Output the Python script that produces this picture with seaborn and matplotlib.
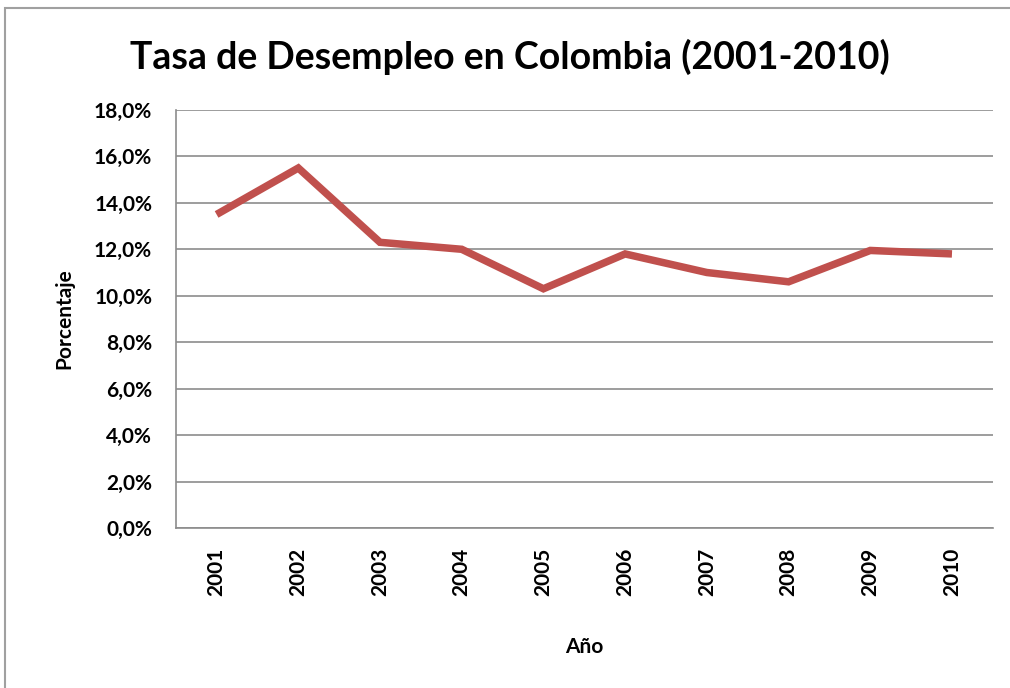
import numpy as np
import pandas as pd
import seaborn as sns
import matplotlib.pyplot as plt
from matplotlib.ticker import FuncFormatter, MultipleLocator
from matplotlib.patches import Rectangle

# datos
years = ['2001', '2002', '2003', '2004', '2005', '2006', '2007', '2008', '2009', '2010']
tasa = [13.5, 15.5, 12.3, 12.0, 10.3, 11.8, 11.0, 10.6, 11.95, 11.8]

df = pd.DataFrame({'Año': years, 'Tasa': tasa})

sns.set_style('white')
plt.rcParams['font.family'] = ['Lato', 'DejaVu Sans']
plt.rcParams['text.color'] = 'black'

fig = plt.figure(figsize=(10.1, 6.88), dpi=100)
ax = fig.add_axes([0.174, 0.2326, 0.809, 0.6076])

sns.lineplot(data=df, x='Año', y='Tasa', sort=False, color='#C0504D',
             linewidth=5.4, ax=ax, solid_joinstyle='miter', solid_capstyle='butt')

ax.set_xlim(-0.5, 9.5)
ax.set_ylim(0, 18)
ax.yaxis.set_major_locator(MultipleLocator(2))
ax.yaxis.set_major_formatter(FuncFormatter(lambda v, p: f'{v:.1f}%'.replace('.', ',')))
ax.grid(axis='y', color='#8C8C8C', linewidth=1.2)
ax.set_axisbelow(True)

for s in ['top', 'right']:
    ax.spines[s].set_visible(False)
for s in ['left', 'bottom']:
    ax.spines[s].set_color('#8C8C8C')
    ax.spines[s].set_linewidth(1.2)

ax.tick_params(axis='y', length=6, width=1.2, color='#8C8C8C', labelsize=15,
               labelcolor='black', pad=11)
ax.tick_params(axis='x', length=0, labelsize=15, labelcolor='black', pad=14,
               labelrotation=90)
for lab in ax.get_xticklabels() + ax.get_yticklabels():
    lab.set_fontweight('bold')

ax.set_xlabel('Año', fontsize=15, fontweight='bold', labelpad=30, color='black')
ax.set_ylabel('Porcentaje', fontsize=15, fontweight='bold', labelpad=14, color='black')
fig.suptitle('Tasa de Desempleo en Colombia (2001-2010)', x=0.505, y=0.917, va='center',
             fontsize=27, fontweight='bold', color='black')

fig.patches.append(Rectangle((0.005, -0.02), 1.05, 1.008, transform=fig.transFigure,
                             fill=False, edgecolor='#A0A0A0', linewidth=1.5))

fig.savefig('out.png', dpi=100)
